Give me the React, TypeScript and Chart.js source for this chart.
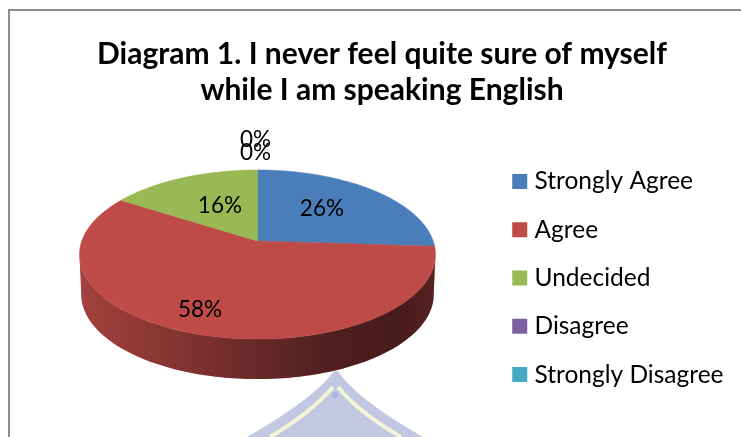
import React, { useEffect, useRef } from "react";
import { Chart, registerables, ArcElement, PieController } from "chart.js";

const titleLines = ["Diagram 1. I never feel quite sure of myself", "while I am speaking English"];
const categories = ["Strongly Agree", "Agree", "Undecided", "Disagree", "Strongly Disagree"];
const percentages = [26, 58, 16, 0, 0];
const sliceColors = ["#4a7ebb", "#be4b48", "#98b954", "#7d60a0", "#46aac4"];

// Radial position of each value label on the pie, as a share of the radius, and a fine nudge in px.
const labelRadii = [0.55, 0.8, 0.5, 1.5, 1.3];
const labelNudges = [[-2, -3], [-8, -3], [2, -2], [-2, -2], [-2, 0]];

const FONT = "Lato";
const PIE_SHIFT = { x: -4.5, y: -35 };
const TILT = { x: 1.757, y: 0.824, perspective: 0.16, depth: 0.4, depthShrink: 0.99 };
const RIM_TURN = 0.1546; // angle at which the rim's silhouette begins

// Projects a point of the flat pie (unit disc) onto the tilted plate.
function project(el: any, u: number, v: number, lowered = false) {
  const r = el.outerRadius;
  const w = 1 - TILT.perspective * v;
  let px = (TILT.x * r * u) / w;
  const py = (TILT.y * r * v) / w + (lowered ? TILT.depth * r : 0);
  if (lowered) px *= TILT.depthShrink;
  return { x: el.x + PIE_SHIFT.x + px, y: el.y + PIE_SHIFT.y + py };
}

class PerspectiveArc extends (ArcElement as any) {
  static id = "perspectiveArc";
  static defaults = { ...(ArcElement as any).defaults };
  static defaultRoutes = (ArcElement as any).defaultRoutes;

  draw(ctx: CanvasRenderingContext2D) {
    const el: any = this;
    const { startAngle, endAngle } = el;
    if (endAngle - startAngle <= 0) return;
    const color = el.options.backgroundColor;
    const steps = 120;

    // Front wall, only where the slice faces the viewer
    const lo = Math.max(startAngle, RIM_TURN);
    const hi = Math.min(endAngle, Math.PI - RIM_TURN);
    if (hi > lo) {
      ctx.beginPath();
      for (let i = 0; i <= steps; i++) {
        const a = lo + ((hi - lo) * i) / steps;
        const p = project(el, Math.cos(a), Math.sin(a));
        if (i === 0) ctx.moveTo(p.x, p.y);
        else ctx.lineTo(p.x, p.y);
      }
      for (let i = steps; i >= 0; i--) {
        const a = lo + ((hi - lo) * i) / steps;
        const p = project(el, Math.cos(a), Math.sin(a), true);
        ctx.lineTo(p.x, p.y);
      }
      ctx.closePath();
      ctx.fillStyle = color;
      ctx.fill();
      const left = project(el, -1, 0).x;
      const right = project(el, 1, 0).x;
      const shade = ctx.createLinearGradient(left, 0, right, 0);
      shade.addColorStop(0, "rgba(0,0,0,0.14)");
      shade.addColorStop(0.1, "rgba(0,0,0,0.2)");
      shade.addColorStop(0.35, "rgba(0,0,0,0.36)");
      shade.addColorStop(0.5, "rgba(0,0,0,0.46)");
      shade.addColorStop(0.7, "rgba(0,0,0,0.58)");
      shade.addColorStop(0.9, "rgba(0,0,0,0.63)");
      shade.addColorStop(1, "rgba(0,0,0,0.55)");
      ctx.fillStyle = shade;
      ctx.fill();
    }

    // Top face
    const apex = project(el, 0, 0);
    ctx.beginPath();
    ctx.moveTo(apex.x, apex.y);
    for (let i = 0; i <= steps; i++) {
      const a = startAngle + ((endAngle - startAngle) * i) / steps;
      const p = project(el, Math.cos(a), Math.sin(a));
      ctx.lineTo(p.x, p.y);
    }
    ctx.closePath();
    ctx.fillStyle = color;
    ctx.fill();
    ctx.strokeStyle = color;
    ctx.lineWidth = 0.5;
    ctx.stroke();
  }
}

class TiltedPieController extends PieController {
  static id = "tiltedPie";
  static defaults = { ...PieController.defaults, dataElementType: "perspectiveArc" };
}

Chart.register(...registerables, PerspectiveArc as any, TiltedPieController as any);

// Faint crest showing through the page behind the chart
const crestPlugin = {
  id: "crest",
  beforeDraw(chart: any) {
    const { ctx } = chart;
    ctx.save();
    ctx.fillStyle = "#c3c7e2";
    ctx.beginPath();
    ctx.moveTo(334, 371);
    ctx.quadraticCurveTo(315, 398, 247, 437);
    ctx.lineTo(423, 437);
    ctx.quadraticCurveTo(355, 398, 338, 371);
    ctx.closePath();
    ctx.fill();
    ctx.strokeStyle = "#f6f4d6";
    ctx.lineWidth = 4;
    ctx.beginPath();
    ctx.moveTo(333, 387);
    ctx.quadraticCurveTo(312, 412, 270, 437);
    ctx.moveTo(338, 387);
    ctx.quadraticCurveTo(358, 412, 401, 437);
    ctx.stroke();
    ctx.fillStyle = "#aab0d6";
    ctx.beginPath();
    ctx.arc(335, 395, 3, 0, Math.PI * 2);
    ctx.fill();
    ctx.restore();
  },
};

// Percentage labels placed through the same projection as the slices
const valueLabelPlugin = {
  id: "valueLabels",
  afterDatasetsDraw(chart: any) {
    const { ctx } = chart;
    const arcs = chart.getDatasetMeta(0).data;
    ctx.save();
    ctx.font = `22.5px ${FONT}`;
    ctx.fillStyle = "#000";
    ctx.textAlign = "center";
    ctx.textBaseline = "middle";
    arcs.forEach((el: any, i: number) => {
      const mid = (el.startAngle + el.endAngle) / 2;
      const f = labelRadii[i];
      const p = project(el, f * Math.cos(mid), f * Math.sin(mid));
      ctx.fillText(`${percentages[i]}%`, p.x + labelNudges[i][0], p.y + labelNudges[i][1]);
    });
    ctx.restore();
  },
};

export default function App() {
  const ref = useRef<HTMLCanvasElement>(null);

  useEffect(() => {
    const chart = new Chart(ref.current as HTMLCanvasElement, {
      type: "tiltedPie" as any,
      data: {
        labels: categories,
        datasets: [{ data: percentages, backgroundColor: sliceColors, borderWidth: 0 }],
      },
      options: {
        animation: false,
        responsive: false,
        radius: 100,
        layout: { padding: { left: 30.5, right: 7.5, top: 36, bottom: -83 } },
        plugins: {
          title: {
            display: true,
            text: titleLines,
            color: "#000",
            font: { family: FONT, size: 30, weight: "bold", lineHeight: 1.2 },
            padding: { top: 0, bottom: 7 },
          },
          legend: {
            display: true,
            position: "right",
            labels: {
              boxWidth: 5,
              boxHeight: 5,
              padding: 23.8,
              color: "#111",
              font: { family: FONT, size: 24.5 },
              generateLabels: () =>
                categories.map((text, i) => ({
                  text,
                  fillStyle: sliceColors[i],
                  strokeStyle: sliceColors[i],
                  lineWidth: 10,
                  index: i,
                })),
            },
          },
          tooltip: { enabled: false },
        },
      } as any,
      plugins: [crestPlugin, valueLabelPlugin],
    });
    return () => chart.destroy();
  }, []);

  return (
    <div style={{ position: "absolute", left: 0, top: 0, width: 741, height: 437, overflow: "hidden", background: "#fff" }}>
      <canvas ref={ref} width={741} height={437} style={{ display: "block" }} />
      <div
        style={{
          position: "absolute",
          left: 8,
          top: 9,
          right: 0,
          bottom: 0,
          borderLeft: "2px solid #8c8c8c",
          borderTop: "2px solid #8c8c8c",
        }}
      />
    </div>
  );
}
